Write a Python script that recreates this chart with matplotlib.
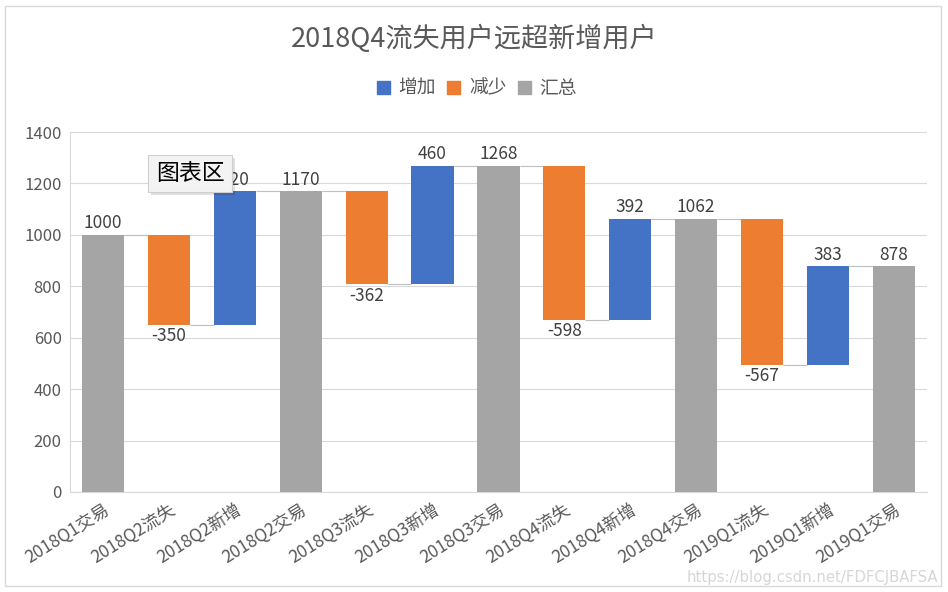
import matplotlib.pyplot as plt
from matplotlib.patches import Rectangle

plt.rcParams['font.family'] = ['Noto Sans CJK SC', 'DejaVu Sans']

categories = ["2018Q1交易", "2018Q2流失", "2018Q2新增", "2018Q2交易",
              "2018Q3流失", "2018Q3新增", "2018Q3交易", "2018Q4流失",
              "2018Q4新增", "2018Q4交易", "2019Q1流失", "2019Q1新增",
              "2019Q1交易"]
values = [1000, -350, 520, 1170, -362, 460, 1268, -598, 392, 1062, -567, 383, 878]
kinds = ["total", "down", "up", "total", "down", "up", "total", "down", "up",
         "total", "down", "up", "total"]

colors = {"up": "#4472C4", "down": "#ED7D31", "total": "#A5A5A5"}
names = {"up": "增加", "down": "减少", "total": "汇总"}
text_color = "#595959"

fig = plt.figure(figsize=(9.48, 5.92), dpi=100)
ax = fig.add_axes([0.0738, 0.169, 0.904, 0.608])

width = 0.64
running = 0
for i, (v, k) in enumerate(zip(values, kinds)):
    if k == "total":
        bottom, top = 0, v
        running = v
    elif k == "up":
        bottom, top = running, running + v
        running += v
    else:
        bottom, top = running + v, running
        running += v
    ax.bar(i, top - bottom, bottom=bottom, width=width, color=colors[k], zorder=3)
    if k == "down":
        ax.text(i, bottom - 10, str(v), ha="center", va="top", fontsize=12.5, color="#404040")
    else:
        ax.text(i, top + 10, str(v), ha="center", va="bottom", fontsize=12.5, color="#404040")

# connector lines between bars
level = 0
for i, (v, k) in enumerate(zip(values, kinds)):
    level = v if k == "total" else level + v
    if i < len(values) - 1:
        ax.hlines(level, i + width / 2, i + 1 - width / 2, color="#BFBFBF", linewidth=0.8, zorder=2)

ax.set_xlim(-0.5, len(values) - 0.5)
ax.set_ylim(0, 1400)
ax.set_yticks(range(0, 1401, 200))
ax.yaxis.grid(True, color="#D9D9D9", linewidth=0.8, zorder=0)
ax.set_axisbelow(True)
ax.set_xticks(range(len(categories)))
ax.set_xticklabels(categories, rotation=32, ha="right", rotation_mode="anchor",
                   fontsize=12.5, color=text_color)
for lbl in ax.get_yticklabels():
    lbl.set_color(text_color)
    lbl.set_fontsize(12)
ax.tick_params(axis="both", length=0, pad=6)
for side in ["top", "right"]:
    ax.spines[side].set_visible(False)
ax.spines["left"].set_color("#D9D9D9")
ax.spines["bottom"].set_color("#D9D9D9")

fig.text(0.5, 0.935, "2018Q4流失用户远超新增用户", ha="center", va="center",
         fontsize=19.5, color=text_color)

handles = [Rectangle((0, 0), 1, 1, color=colors[k]) for k in ["up", "down", "total"]]
fig.legend(handles, [names[k] for k in ["up", "down", "total"]], loc="center",
           bbox_to_anchor=(0.503, 0.851), ncol=3, frameon=False, fontsize=13.5,
           handlelength=0.7, handleheight=0.7, handletextpad=0.45, columnspacing=0.6,
           labelcolor=text_color)

# outer chart border
fig.patches.append(Rectangle((0.005, 0.01), 0.988, 0.98, transform=fig.transFigure,
                             fill=False, edgecolor="#D9D9D9", linewidth=1))

# hover tooltip "图表区" with a soft shadow
fig.patches.append(Rectangle((0.1561 + 0.003, 0.6757 - 0.005), 0.0886, 0.0625,
                             transform=fig.transFigure, facecolor="#000000", alpha=0.12,
                             edgecolor="none", zorder=9))
fig.patches.append(Rectangle((0.1561, 0.6757), 0.0886, 0.0625, transform=fig.transFigure,
                             facecolor="#F3F3F3", edgecolor="#CFCFCF", linewidth=0.8, zorder=10))
fig.text(0.2004, 0.707, "图表区", ha="center", va="center", fontsize=16.5, color="black",
         fontweight="medium", zorder=11)

# watermark
fig.text(0.99, 0.025, "https://blog.csdn.net/FDFCJBAFSA", ha="right", va="center",
         fontsize=10.7, color="#D6D6D6", family="DejaVu Sans")

fig.savefig("out.png", dpi=100)
